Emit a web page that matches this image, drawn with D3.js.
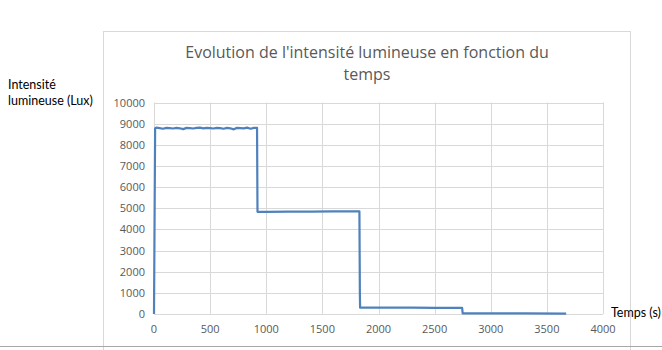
<!DOCTYPE html>
<html>
<head>
<meta charset="utf-8">
<script src="https://cdn.jsdelivr.net/npm/d3@7"></script>
<style>
  body { margin: 0; background: #fff; }
  text { font-family: "Open Sans", "Liberation Sans", sans-serif; }
  .lbl { font-family: Lato, "Open Sans", sans-serif; }
</style>
</head>
<body>
<div id="chart"></div>
<script>
// Values (time in s, intensity in lux)
const times = [0, 10, 20, 50, 80, 110, 140, 170, 200, 230, 260, 290, 320, 350, 380, 410, 440, 470, 500,
  530, 560, 590, 620, 650, 680, 710, 740, 770, 800, 830, 860, 890, 918,
  922, 1000, 1200, 1400, 1600, 1830,
  1834, 1836, 2000, 2300, 2500, 2745,
  2750, 3000, 3300, 3672];
const lux = [0, 8780, 8810, 8790, 8760, 8800, 8790, 8770, 8800, 8780, 8740, 8800, 8790, 8770, 8800, 8810, 8780, 8800, 8790,
  8770, 8800, 8790, 8760, 8800, 8780, 8730, 8800, 8790, 8780, 8810, 8760, 8800, 8800,
  4830, 4830, 4840, 4840, 4850, 4850,
  1000, 300, 300, 300, 290, 290,
  30, 30, 25, 20];
const xTicks = [0, 500, 1000, 1500, 2000, 2500, 3000, 3500, 4000];
const yTicks = [0, 1000, 2000, 3000, 4000, 5000, 6000, 7000, 8000, 9000, 10000];

const W = 662, H = 350;
const svg = d3.select("#chart").append("svg").attr("width", W).attr("height", H);

// chart frame
svg.append("rect").attr("x", 103.5).attr("y", 31.5).attr("width", 527).attr("height", 320)
  .attr("fill", "none").attr("stroke", "#d9d9d9");
svg.append("line").attr("x1", 0).attr("x2", W).attr("y1", 346.5).attr("y2", 346.5)
  .attr("stroke", "#a6a6a6");

const x = d3.scaleLinear().domain([0, 4000]).range([154, 603]);
const y = d3.scaleLinear().domain([0, 10000]).range([314, 102.5]);

// gridlines
svg.append("g").selectAll("line").data(xTicks).join("line")
  .attr("x1", d => Math.round(x(d)) + 0.5).attr("x2", d => Math.round(x(d)) + 0.5)
  .attr("y1", y(10000)).attr("y2", y(0))
  .attr("stroke", "#d9d9d9");
svg.append("g").selectAll("line").data(yTicks).join("line")
  .attr("x1", x(0)).attr("x2", x(4000))
  .attr("y1", d => Math.round(y(d)) + 0.5).attr("y2", d => Math.round(y(d)) + 0.5)
  .attr("stroke", "#d9d9d9");

// tick labels
svg.append("g").selectAll("text").data(yTicks).join("text")
  .attr("x", 145).attr("y", d => y(d) + 4)
  .attr("text-anchor", "end").attr("font-size", 11).attr("fill", "#595959")
  .text(d => d);
svg.append("g").selectAll("text").data(xTicks).join("text")
  .attr("x", d => x(d)).attr("y", 333)
  .attr("text-anchor", "middle").attr("font-size", 11).attr("fill", "#595959")
  .text(d => d);

// data line
const line = d3.line().x((d, i) => x(times[i])).y(d => y(d));
svg.append("path").datum(lux)
  .attr("d", line)
  .attr("fill", "none").attr("stroke", "#4f81bd").attr("stroke-width", 2.2)
  .attr("stroke-linejoin", "round");

// title
const title = svg.append("text").attr("x", 367).attr("text-anchor", "middle")
  .attr("font-size", 16).attr("fill", "#595959");
title.append("tspan").attr("x", 367).attr("y", 58).text("Evolution de l'intensité lumineuse en fonction du");
title.append("tspan").attr("x", 367).attr("y", 80).text("temps");

// axis labels
const yl = svg.append("text").attr("class", "lbl").attr("font-size", 12.5).attr("fill", "#000");
yl.append("tspan").attr("x", 8).attr("y", 89).text("Intensité");
yl.append("tspan").attr("x", 8).attr("y", 105).text("lumineuse (Lux)");
svg.append("text").attr("class", "lbl").attr("x", 611).attr("y", 317).attr("font-size", 12.5).attr("fill", "#000")
  .text("Temps (s)");
</script>
</body>
</html>
